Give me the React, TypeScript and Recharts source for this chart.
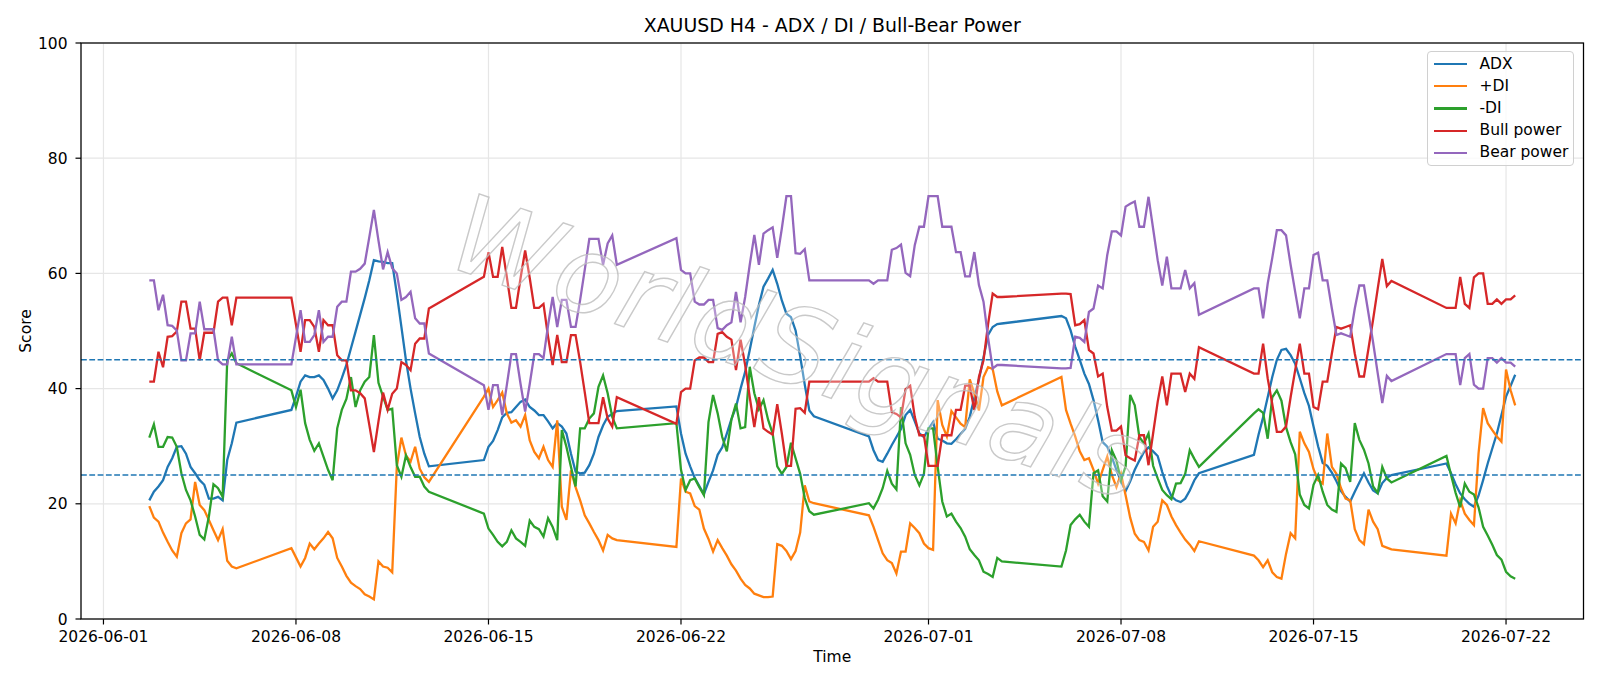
import React from 'react';
import { LineChart, Line, XAxis, YAxis, CartesianGrid, ReferenceLine, Legend } from 'recharts';

// H4 trading sessions (start bar, number of bars)
const sessionStarts = ['2026-06-02T16:00', '2026-06-07T20:00', '2026-06-14T20:00', '2026-06-21T20:00', '2026-06-28T20:00', '2026-07-05T20:00', '2026-07-12T20:00', '2026-07-19T20:00'];
const sessionBars = [20, 31, 30, 31, 30, 31, 31, 16];

const adx = [
  20.6, 22.1, 23.0, 24.1, 26.4, 27.9, 29.9, 30.0, 28.7, 26.4, 25.3, 24.1, 23.3, 20.9, 20.9, 21.2, 20.6, 27.6, 30.5, 34.1,
  36.3, 38.6, 41.2, 42.3, 42.0, 42.0, 42.3, 41.5, 40.0, 38.3, 39.7, 41.8, 44.1, 47.0, 49.9, 52.8, 55.7, 58.8, 62.3, 62.1, 62.0, 61.8, 61.8, 56.5, 50.7, 44.9, 40.0, 35.7, 31.6, 28.7, 26.5,
  27.6, 29.9, 30.9, 32.8, 35.0, 35.8, 35.9, 36.8, 37.7, 38.1, 36.8, 36.2, 35.4, 35.4, 34.3, 33.1, 34.0, 33.4, 32.2, 28.7, 25.6, 25.3, 25.4, 26.7, 28.7, 31.6, 33.6, 35.1, 35.6, 36.1,
  36.9, 32.2, 28.7, 26.5, 24.5, 23.1, 21.7, 23.8, 25.8, 28.5, 29.8, 32.2, 34.7, 36.8, 40.0, 42.9, 46.7, 50.7, 54.5, 57.7, 59.1, 60.6, 58.2, 55.3, 53.0, 52.4, 50.1, 45.6, 40.7, 36.2, 35.2,
  31.7, 29.3, 27.6, 27.3, 28.7, 30.2, 31.6, 33.0, 35.4, 36.3, 34.3, 32.2, 31.6, 33.0, 34.2, 31.3, 31.0, 30.5, 30.4, 31.2, 32.1, 33.0, 35.1, 38.4, 41.6, 45.4, 49.3, 50.7, 51.2, 51.3,
  52.6, 52.2, 50.1, 47.3, 45.0, 42.6, 40.8, 38.0, 34.5, 30.7, 29.9, 28.1, 25.9, 23.9, 22.2, 23.9, 25.9, 27.5, 29.0, 29.8, 29.1, 28.3, 25.5, 23.1, 21.3, 20.6, 20.3, 20.9, 22.3, 24.1, 25.3,
  28.5, 32.0, 35.0, 38.5, 42.0, 45.0, 46.7, 46.9, 45.8, 44.3, 41.8, 39.2, 37.0, 33.4, 30.0, 27.1, 26.6, 25.4, 23.9, 22.2, 21.2, 20.4, 22.1, 23.7, 25.3, 23.7, 22.3, 21.8, 23.6, 24.5, 25.0,
  27.0, 25.3, 23.4, 21.8, 20.8, 20.0, 19.5, 21.4, 24.1, 27.0, 29.6, 32.2, 35.4, 38.6, 40.5, 42.4,
];

const plusDi = [
  19.6, 17.6, 16.9, 15.0, 13.4, 11.9, 10.8, 14.9, 16.6, 17.3, 23.8, 19.8, 18.9, 17.2, 15.4, 13.7, 15.6, 10.1, 9.1, 8.8,
  12.3, 10.7, 9.1, 10.6, 13.1, 12.1, 13.1, 14.0, 15.1, 14.0, 10.6, 9.1, 7.5, 6.3, 5.7, 5.2, 4.3, 3.9, 3.4, 10.0, 9.1, 8.9, 8.1, 26.4, 31.5, 28.4, 27.3, 29.9, 26.1, 24.6, 23.8,
  38.6, 40.0, 36.8, 38.0, 39.3, 35.7, 34.1, 34.5, 33.4, 35.4, 31.0, 29.0, 27.9, 29.9, 27.6, 26.4, 34.5, 19.5, 17.2, 25.8, 22.9, 20.6, 18.0, 16.6, 15.1, 13.7, 11.9, 14.6, 14.0, 13.7,
  12.5, 24.4, 22.1, 21.8, 19.6, 19.0, 15.7, 13.9, 11.7, 13.7, 12.3, 11.0, 9.5, 8.4, 7.0, 5.9, 5.3, 4.4, 4.1, 3.8, 3.8, 3.9, 13.0, 12.7, 11.8, 10.4, 11.8, 15.0, 23.2, 20.4, 20.1,
  18.0, 16.0, 13.7, 11.4, 10.2, 9.7, 7.9, 11.7, 11.7, 16.6, 15.8, 14.9, 13.1, 12.3, 12.0, 38.0, 33.7, 31.7, 36.1, 35.0, 33.9, 33.3, 41.6, 39.2, 36.2, 42.0, 43.7, 43.4, 39.5, 37.1,
  42.0, 36.3, 33.9, 31.7, 29.1, 27.6, 27.9, 25.9, 23.5, 25.9, 28.2, 25.0, 22.9, 25.2, 21.5, 17.6, 14.8, 13.7, 13.4, 11.9, 16.0, 16.9, 20.6, 19.8, 17.8, 16.3, 15.0, 13.8, 12.9, 11.8, 13.5,
  11.0, 10.2, 9.0, 10.2, 8.1, 7.3, 7.0, 11.3, 14.9, 14.0, 32.5, 30.5, 29.0, 26.0, 24.1, 23.5, 32.2, 26.4, 25.2, 22.7, 20.9, 20.6, 15.6, 13.7, 13.0, 19.0, 16.9, 15.6, 12.7, 12.4, 12.1,
  11.0, 18.3, 16.6, 20.6, 18.3, 17.2, 16.3, 28.7, 36.6, 34.0, 32.8, 31.7, 30.8, 43.3, 39.7, 37.1,
];

const minusDi = [
  31.5, 33.8, 29.9, 29.9, 31.6, 31.5, 29.9, 25.3, 22.4, 20.6, 17.8, 14.6, 13.8, 17.8, 23.4, 22.7, 21.2, 44.9, 46.1, 44.4,
  39.7, 36.8, 39.8, 34.0, 31.1, 29.2, 30.5, 28.2, 25.9, 24.1, 33.1, 36.3, 38.2, 42.0, 36.8, 39.7, 41.2, 42.0, 49.3, 41.0, 38.6, 36.3, 36.5, 26.7, 24.7, 28.4, 26.4, 24.7, 24.7, 23.0, 22.1,
  18.3, 15.7, 14.6, 13.4, 12.6, 13.4, 15.4, 14.0, 13.4, 12.7, 17.1, 16.0, 15.6, 14.3, 17.5, 16.0, 13.7, 32.8, 29.9, 26.4, 23.0, 33.1, 33.1, 34.8, 35.7, 40.3, 42.3, 39.2, 35.1, 33.1,
  34.0, 25.9, 22.4, 24.1, 24.4, 22.9, 21.5, 34.2, 38.9, 35.7, 31.6, 29.1, 34.6, 37.4, 33.1, 33.3, 43.8, 39.2, 36.4, 38.0, 34.6, 32.2, 26.5, 25.2, 26.4, 30.6, 27.9, 25.2, 21.0, 18.7, 18.1,
  20.1, 19.2, 20.7, 22.7, 25.7, 23.5, 22.5, 36.8, 30.5, 28.5, 25.0, 23.2, 25.2, 33.1, 33.1, 26.4, 20.4, 17.8, 18.3, 16.9, 15.8, 14.3, 12.1, 11.1, 10.2, 8.2, 7.8, 7.3, 10.6, 10.0,
  9.1, 11.9, 16.3, 17.3, 18.1, 16.9, 16.0, 25.3, 25.8, 21.3, 20.4, 29.3, 27.5, 24.1, 26.5, 38.9, 37.1, 31.6, 30.5, 32.2, 26.6, 24.4, 22.4, 21.5, 20.8, 23.5, 23.6, 25.2, 29.3, 27.8, 26.4,
  35.7, 36.4, 35.8, 31.3, 38.5, 39.7, 37.9, 33.3, 30.7, 28.6, 21.6, 19.8, 19.2, 23.3, 25.0, 22.1, 19.8, 19.0, 18.6, 27.0, 26.2, 23.8, 34.0, 31.1, 29.4, 27.0, 23.0, 21.9, 26.4, 24.4, 23.7,
  28.3, 25.0, 21.9, 19.4, 23.5, 22.1, 21.6, 19.4, 16.0, 14.5, 12.9, 11.1, 10.3, 8.2, 7.4, 7.0,
];

const bullPower = [
  41.2, 41.2, 46.4, 43.7, 49.0, 49.1, 49.9, 55.1, 55.1, 50.4, 50.4, 44.9, 49.7, 49.7, 49.7, 55.1, 55.8, 55.8, 51.0, 55.8,
  55.8, 51.1, 46.4, 51.9, 51.9, 50.7, 46.4, 51.9, 51.0, 51.0, 45.8, 44.9, 44.9, 39.7, 39.7, 39.2, 38.3, 33.7, 29.0, 34.3, 39.3, 36.3, 39.1, 40.0, 44.6, 44.1, 43.2, 47.8, 48.7, 48.7, 53.9,
  59.4, 63.7, 59.4, 59.4, 64.6, 59.4, 54.0, 54.0, 59.2, 64.0, 59.2, 54.0, 54.0, 54.7, 49.0, 44.1, 49.3, 44.6, 44.6, 49.3, 49.3, 44.6, 39.4, 34.0, 34.0, 34.0, 38.5, 34.8, 33.4, 38.5,
  33.9, 39.4, 40.0, 40.0, 44.9, 45.4, 45.4, 44.6, 44.6, 49.5, 49.8, 49.0, 48.5, 43.2, 48.5, 44.1, 38.5, 33.3, 38.5, 33.1, 32.5, 32.0, 37.3, 32.2, 26.6, 26.6, 36.5, 36.6, 35.8, 41.2, 41.2,
  41.2, 41.8, 41.2, 41.2, 41.2, 35.9, 35.6, 35.0, 39.9, 40.5, 35.1, 31.9, 31.9, 26.6, 26.6, 26.6, 31.9, 31.9, 31.9, 36.3, 36.3, 40.5, 40.5, 36.3, 42.0, 44.9, 51.2, 56.5, 55.9, 55.9,
  56.5, 56.5, 56.4, 51.0, 51.2, 51.9, 46.7, 46.1, 42.1, 42.6, 36.8, 32.7, 32.7, 33.4, 28.4, 27.9, 27.5, 31.9, 31.9, 26.7, 32.2, 37.7, 42.1, 37.1, 42.6, 42.6, 42.6, 39.4, 42.6, 41.7, 47.2,
  42.6, 42.6, 47.8, 41.8, 37.3, 32.5, 32.5, 33.4, 38.5, 43.2, 47.8, 42.6, 42.6, 36.8, 36.4, 41.2, 41.2, 46.1, 50.7, 50.4, 50.7, 51.0, 46.1, 42.1, 42.1, 47.0, 52.0, 57.3, 62.5, 57.8, 58.7,
  54.0, 54.0, 54.0, 59.4, 54.7, 54.0, 59.3, 60.0, 60.0, 54.7, 54.7, 55.5, 54.7, 55.5, 55.5, 56.2,
];

const bearPower = [
  58.8, 58.8, 53.6, 56.3, 51.0, 50.9, 50.1, 44.9, 44.9, 49.6, 49.6, 55.1, 50.3, 50.3, 50.3, 44.9, 44.2, 44.2, 49.0, 44.2,
  44.2, 48.9, 53.6, 48.1, 48.1, 49.3, 53.6, 48.1, 49.0, 49.0, 54.2, 55.1, 55.1, 60.3, 60.3, 60.8, 61.7, 66.3, 71.0, 65.7, 60.7, 63.7, 60.9, 60.0, 55.4, 55.9, 56.8, 52.2, 51.3, 51.3, 46.1,
  40.6, 36.3, 40.6, 40.6, 35.4, 40.6, 46.0, 46.0, 40.8, 36.0, 40.8, 46.0, 46.0, 45.3, 51.0, 55.9, 50.7, 55.4, 55.4, 50.7, 50.7, 55.4, 60.6, 66.0, 66.0, 66.0, 61.5, 65.2, 66.6, 61.5,
  66.1, 60.6, 60.0, 60.0, 55.1, 54.6, 54.6, 55.4, 55.4, 50.5, 50.2, 51.0, 51.5, 56.8, 51.5, 55.9, 61.5, 66.7, 61.5, 66.9, 67.5, 68.0, 62.7, 67.8, 73.4, 73.4, 63.5, 63.4, 64.2, 58.8, 58.8,
  58.8, 58.2, 58.8, 58.8, 58.8, 64.1, 64.4, 65.0, 60.1, 59.5, 64.9, 68.1, 68.1, 73.4, 73.4, 73.4, 68.1, 68.1, 68.1, 63.7, 63.7, 59.5, 59.5, 63.7, 58.0, 55.1, 48.8, 43.5, 44.1, 44.1,
  43.5, 43.5, 43.6, 49.0, 48.8, 48.1, 53.3, 53.9, 57.9, 57.4, 63.2, 67.3, 67.3, 66.6, 71.6, 72.1, 72.5, 68.1, 68.1, 73.3, 67.8, 62.3, 57.9, 62.9, 57.4, 57.4, 57.4, 60.6, 57.4, 58.3, 52.8,
  57.4, 57.4, 52.2, 58.2, 62.7, 67.5, 67.5, 66.6, 61.5, 56.8, 52.2, 57.4, 57.4, 63.2, 63.6, 58.8, 58.8, 53.9, 49.3, 49.6, 49.3, 49.0, 53.9, 57.9, 57.9, 53.0, 48.0, 42.7, 37.5, 42.2, 41.3,
  46.0, 46.0, 46.0, 40.6, 45.3, 46.0, 40.7, 40.0, 40.0, 45.3, 45.3, 44.5, 45.3, 44.5, 44.5, 43.8,
];

const xTickLabels = ['2026-06-01', '2026-06-08', '2026-06-15', '2026-06-22', '2026-07-01', '2026-07-08', '2026-07-15', '2026-07-22'];
const yTicks = [0, 20, 40, 60, 80, 100];
const thresholds = [45, 25];

const series = [
  { key: 'adx', name: 'ADX', color: '#1f77b4', values: adx },
  { key: 'pdi', name: '+DI', color: '#ff7f0e', values: plusDi },
  { key: 'mdi', name: '-DI', color: '#2ca02c', values: minusDi },
  { key: 'bull', name: 'Bull power', color: '#d62728', values: bullPower },
  { key: 'bear', name: 'Bear power', color: '#9467bd', values: bearPower },
];

const DAY_MS = 86400000;
const ORIGIN = Date.UTC(2026, 5, 1);
const toDay = (iso: string) => (Date.parse((iso.length === 10 ? iso + 'T00:00' : iso) + ':00Z') - ORIGIN) / DAY_MS;

const times: number[] = [];
sessionStarts.forEach((s, i) => {
  const d0 = toDay(s);
  for (let k = 0; k < sessionBars[i]; k++) times.push(d0 + (k * 4) / 24);
});

const data = times.map((x, i) => {
  const row: Record<string, number> = { x };
  series.forEach((s) => { row[s.key] = s.values[i]; });
  return row;
});

const xTicks = xTickLabels.map(toDay);
const span = times[times.length - 1] - times[0];
const xDomain: [number, number] = [times[0] - 0.05 * span, times[times.length - 1] + 0.05 * span];

const FONT = 'DejaVu Sans, sans-serif';
const W = 1600;
const H = 686;
const PLOT = { left: 81, top: 43, right: 1583.5, bottom: 619 };

const LegendBox = () => (
  <div style={{
    width: 147, height: 115, boxSizing: 'border-box', border: '1px solid #d0d0d0', borderRadius: 4,
    background: 'rgba(255,255,255,0.8)', fontFamily: FONT, fontSize: 15.5, color: '#000', position: 'relative',
  }}>
    {series.map((s, i) => (
      <div key={s.key} style={{ position: 'absolute', left: 0, top: 12.5 + i * 22.2 - 11, height: 22, width: '100%' }}>
        <div style={{ position: 'absolute', left: 5.5, top: 10, width: 33.5, height: 2.3, background: s.color }} />
        <div style={{ position: 'absolute', left: 51.5, top: 1.5, whiteSpace: 'nowrap', lineHeight: '18px' }}>{s.name}</div>
      </div>
    ))}
  </div>
);

export default function App() {
  return (
    <div style={{ position: 'absolute', left: 0, top: 0, width: W, height: H, background: '#fff', fontFamily: FONT }}>
      <LineChart width={W} height={H} data={data} margin={{ top: PLOT.top, right: W - PLOT.right, bottom: 0, left: 0 }}>
        <CartesianGrid stroke="#e6e6e6" strokeWidth={1.2} />
        <XAxis
          dataKey="x" type="number" domain={xDomain} allowDataOverflow ticks={xTicks}
          tickFormatter={(v: number) => xTickLabels[xTicks.findIndex((t) => Math.abs(t - v) < 1e-6)] ?? ''}
          height={H - PLOT.bottom} tickSize={5.5} tickMargin={6} interval={0}
          axisLine={false} tickLine={{ stroke: '#000', strokeWidth: 1.2 }}
          tick={{ fontSize: 15.5, fill: '#000', fontFamily: FONT }}
        />
        <YAxis
          type="number" domain={[0, 100]} ticks={yTicks} allowDataOverflow width={PLOT.left}
          tickSize={5.5} tickMargin={8} interval={0}
          axisLine={false} tickLine={{ stroke: '#000', strokeWidth: 1.2 }}
          tick={{ fontSize: 15.5, fill: '#000', fontFamily: FONT }}
        />
        {series.map((s) => (
          <Line key={s.key} type="linear" dataKey={s.key} name={s.name} stroke={s.color} strokeWidth={2.3}
            dot={false} activeDot={false} isAnimationActive={false} />
        ))}
        {thresholds.map((t) => (
          <ReferenceLine key={t} y={t} stroke="#1f77b4" strokeWidth={1.5} strokeDasharray="5.8 2.5" />
        ))}
        <Legend layout="vertical" align="center" verticalAlign="middle" content={() => <LegendBox />}
          wrapperStyle={{ position: 'absolute', left: 1427, top: 50.5, width: 147, height: 115 }} />
      </LineChart>
      <svg width={W} height={H} style={{ position: 'absolute', left: 0, top: 0, pointerEvents: 'none' }}>
        <text x={800} y={348} textAnchor="middle" dominantBaseline="central" transform="rotate(19 800 348)"
          fontFamily={FONT} fontStyle="italic" fontSize={108} letterSpacing={2} fill="#ffffff" fillOpacity={0.3}
          stroke="#bcbcbc" strokeOpacity={0.8} strokeWidth={1.4}>WorldSignals</text>
        <rect x={PLOT.left} y={PLOT.top} width={PLOT.right - PLOT.left} height={PLOT.bottom - PLOT.top}
          fill="none" stroke="#000" strokeWidth={1.25} />
        <text x={(PLOT.left + PLOT.right) / 2} y={32} textAnchor="middle" fontFamily={FONT} fontSize={18.9} fill="#000">
          XAUUSD H4 - ADX / DI / Bull-Bear Power
        </text>
        <text x={(PLOT.left + PLOT.right) / 2} y={661.5} textAnchor="middle" fontFamily={FONT} fontSize={15.5} fill="#000">Time</text>
        <text x={30.5} y={(PLOT.top + PLOT.bottom) / 2} textAnchor="middle" fontFamily={FONT} fontSize={15.5} fill="#000"
          transform={`rotate(-90 30.5 ${(PLOT.top + PLOT.bottom) / 2})`}>Score</text>
      </svg>
    </div>
  );
}
